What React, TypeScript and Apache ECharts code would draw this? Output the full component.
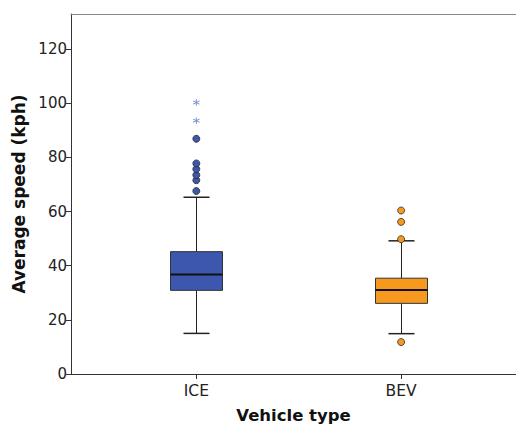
import React, { useEffect, useRef } from "react";
import * as echarts from "echarts";

const categories = ["ICE", "BEV"];
const positions = [1, 2];
const whiskerLow = [15.0, 14.9];
const q1 = [30.9, 26.1];
const median = [36.8, 31.0];
const q3 = [45.2, 35.4];
const whiskerHigh = [65.3, 49.2];
const iceOutliers = [67.6, 71.6, 73.5, 75.7, 77.8, 86.9];
const iceExtremes = [93.6, 100.3];
const bevOutliers = [11.8, 49.8, 56.2, 60.4];
const yTicks = [0, 20, 40, 60, 80, 100, 120];

const boxColors = ["#3d56ae", "#f7991f"];
const FONT = "DejaVu Sans";

export default function App() {
  const ref = useRef<HTMLDivElement>(null);
  useEffect(() => {
    if (!ref.current) return;
    const chart = echarts.init(ref.current, null, { renderer: "svg" });
    const boxData = positions.map((p, i) => [p, whiskerLow[i], q1[i], median[i], q3[i], whiskerHigh[i], i]);
    const boxW = 52;
    const capW = 26;
    const option = {
      animation: false,
      grid: { left: 71, right: 0, top: 14, bottom: 51, outerBoundsMode: "none", containLabel: false },
      xAxis: [
        {
          type: "value",
          min: 0.388,
          max: 2.561,
          splitLine: { show: false },
          axisLine: { show: true, lineStyle: { color: "#333", width: 1 } },
          axisTick: { show: true, length: 5, lineStyle: { color: "#333" }, customValues: positions },
          axisLabel: {
            customValues: positions,
            formatter: (v: number) => categories[positions.indexOf(Math.round(v))] ?? "",
            color: "#222",
            fontFamily: FONT,
            fontSize: 15.5,
            margin: 9,
          },
          name: "Vehicle type",
          nameLocation: "middle",
          nameGap: 33,
          nameTextStyle: { fontFamily: FONT, fontSize: 16.5, fontWeight: "bold", color: "#111" },
        },
        {
          type: "value",
          position: "top",
          min: 0.388,
          max: 2.561,
          splitLine: { show: false },
          axisLine: { show: true, onZero: false, lineStyle: { color: "#888", width: 1 } },
          axisTick: { show: false },
          axisLabel: { show: false },
        },
      ],
      yAxis: {
        type: "value",
        min: 0,
        max: 133,
        interval: 20,
        splitLine: { show: false },
        axisLine: { show: true, lineStyle: { color: "#333" } },
        axisTick: { show: true, length: 5, lineStyle: { color: "#333" }, customValues: yTicks },
        axisLabel: {
          customValues: yTicks,
          color: "#222",
          fontFamily: FONT,
          fontSize: 15,
          margin: 4,
        },
        name: "Average speed (kph)",
        nameLocation: "middle",
        nameGap: 44,
        nameTextStyle: { fontFamily: FONT, fontSize: 17, fontWeight: "bold", color: "#111" },
      },
      series: [
        {
          type: "custom",
          data: boxData,
          encode: { x: 0, y: [1, 2, 3, 4, 5] },
          renderItem: (params: any, api: any) => {
            const x = api.value(0);
            const idx = api.value(6);
            const pLow = api.coord([x, api.value(1)]);
            const pQ1 = api.coord([x, api.value(2)]);
            const pMed = api.coord([x, api.value(3)]);
            const pQ3 = api.coord([x, api.value(4)]);
            const pHigh = api.coord([x, api.value(5)]);
            const cx = Math.round(pMed[0]) + 0.5;
            const lineStyle = { stroke: "#222", lineWidth: 1 };
            return {
              type: "group",
              children: [
                { type: "line", shape: { x1: cx, y1: pQ3[1], x2: cx, y2: pHigh[1] }, style: lineStyle },
                { type: "line", shape: { x1: cx, y1: pQ1[1], x2: cx, y2: pLow[1] }, style: lineStyle },
                { type: "line", shape: { x1: cx - capW / 2, y1: pHigh[1], x2: cx + capW / 2, y2: pHigh[1] }, style: { stroke: "#222", lineWidth: 1.5 } },
                { type: "line", shape: { x1: cx - capW / 2, y1: pLow[1], x2: cx + capW / 2, y2: pLow[1] }, style: { stroke: "#222", lineWidth: 1.5 } },
                {
                  type: "rect",
                  shape: { x: cx - boxW / 2, y: pQ3[1], width: boxW, height: pQ1[1] - pQ3[1] },
                  style: { fill: boxColors[idx], stroke: "#333", lineWidth: 1 },
                },
                { type: "line", shape: { x1: cx - boxW / 2, y1: pMed[1], x2: cx + boxW / 2, y2: pMed[1] }, style: { stroke: "#111", lineWidth: 2 } },
              ],
            };
          },
        },
        {
          type: "scatter",
          data: iceOutliers.map((v) => [positions[0], v]),
          symbol: "circle",
          symbolSize: 7,
          itemStyle: { color: boxColors[0], borderColor: "#2a2a2a", borderWidth: 0.8, opacity: 1 },
        },
        {
          type: "scatter",
          data: bevOutliers.map((v) => [positions[1], v]),
          symbol: "circle",
          symbolSize: 7,
          itemStyle: { color: boxColors[1], borderColor: "#2a2a2a", borderWidth: 0.8, opacity: 1 },
        },
        {
          type: "scatter",
          data: iceExtremes.map((v) => [positions[0], v]),
          symbol: "path://M5 0 L5 10 M0.67 2.5 L9.33 7.5 M0.67 7.5 L9.33 2.5",
          symbolSize: 6.5,
          itemStyle: { color: "none", borderColor: "#7d8dcc", borderWidth: 1, opacity: 1 },
        },
      ],
    };
    chart.setOption(option as any);
    return () => chart.dispose();
  }, []);
  return <div ref={ref} style={{ width: 516, height: 425, position: "absolute", left: 0, top: 0 }} />;
}
